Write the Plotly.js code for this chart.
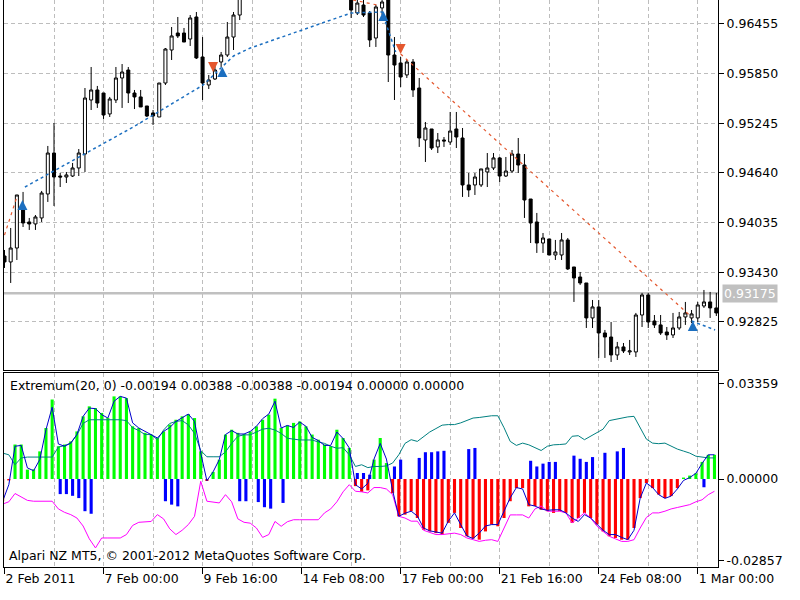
<!DOCTYPE html>
<html>
<head>
<meta charset="utf-8">
<script src="https://cdn.plot.ly/plotly-3.0.1.min.js"></script>
<style>html,body{margin:0;padding:0;background:#fff;}#chart{width:800px;height:600px;}</style>
</head>
<body>
<div id="chart"></div>
<script>
// ---- price data (H4 bars, index 0..115) ----
const openP = [
0.93629,0.93556,0.93726,0.94238,0.94043,0.94019,0.94092,0.94384,0.94883,0.94603,
0.94591,0.94603,0.94701,0.94871,0.95529,0.95651,0.95614,0.95359,0.95529,0.95797,
0.95894,0.95614,0.95566,0.95456,0.95371,0.95322,0.95736,0.96138,0.96345,0.96345,
0.96272,0.96540,0.96053,0.95712,0.95785,0.95992,0.96077,0.96296,0.96564,0.9680,
0.9694,0.9706,0.9699,0.9716,0.9725,0.9712,0.9720,0.9736,0.9728,0.9719,
0.9733,0.9722,0.9707,0.9714,0.9697,0.9689,0.96844,0.96589,0.96686,0.96589,
0.96284,0.96650,0.96747,0.96077,0.95980,0.95834,0.95992,0.95675,0.95042,0.95176,
0.94957,0.95042,0.95017,0.95176,0.95066,0.94494,0.94494,0.94494,0.94652,0.94701,
0.94823,0.94603,0.94664,0.94871,0.94737,0.94323,0.94043,0.93787,0.93836,0.93641,
0.93641,0.93824,0.93495,0.93373,0.93300,0.92874,0.93008,0.92691,0.92642,0.92423,
0.92521,0.92460,0.92460,0.92910,0.93154,0.92837,0.92789,0.92703,0.92667,0.92752,
0.92886,0.92874,0.92874,0.93020,0.93069,0.92996];
const highP = [
0.93702,0.93970,0.94372,0.94409,0.94092,0.94128,0.94421,0.94969,0.95249,0.94640,
0.94652,0.94762,0.94932,0.95675,0.95931,0.95700,0.95614,0.95566,0.95931,0.95967,
0.95931,0.95651,0.95651,0.95456,0.95407,0.95736,0.96162,0.96418,0.96540,0.96406,
0.96564,0.96601,0.96296,0.95834,0.95992,0.96114,0.96479,0.96601,0.96869,0.9698,
0.9712,0.9715,0.9720,0.9731,0.9729,0.9724,0.9742,0.9748,0.9735,0.9738,
0.9744,0.9728,0.9719,0.9721,0.9706,0.9699,0.96930,0.96747,0.96771,0.96613,
0.96686,0.96808,0.96808,0.96296,0.96053,0.96016,0.96028,0.95797,0.95261,0.95176,
0.95127,0.95078,0.95383,0.95383,0.95188,0.94640,0.94640,0.94689,0.94883,0.94883,
0.94835,0.94835,0.94920,0.95066,0.94871,0.94323,0.94153,0.93909,0.93836,0.93824,
0.93909,0.93848,0.93495,0.93434,0.93300,0.93093,0.93093,0.92728,0.92825,0.92582,
0.92569,0.92606,0.92935,0.93179,0.93179,0.92910,0.92910,0.92764,0.92935,0.92947,
0.93069,0.92971,0.93069,0.93215,0.93191,0.93179];
const lowP = [
0.93483,0.93300,0.93580,0.93982,0.93946,0.93946,0.94043,0.94287,0.94238,0.94469,
0.94518,0.94591,0.94603,0.94652,0.95407,0.95432,0.95298,0.95322,0.95492,0.95432,
0.95492,0.95419,0.95444,0.95322,0.95225,0.95322,0.95712,0.96016,0.96284,0.96235,
0.96187,0.96028,0.95529,0.95663,0.95773,0.95931,0.96053,0.96138,0.96503,0.9677,
0.9688,0.9695,0.9696,0.9709,0.9708,0.9703,0.9716,0.9722,0.9714,0.9717,
0.9718,0.9702,0.9698,0.9693,0.9684,0.9677,0.96528,0.96564,0.96540,0.96175,
0.96175,0.96564,0.95748,0.95529,0.95687,0.95797,0.95566,0.94957,0.94774,0.94920,
0.94883,0.94957,0.94981,0.94944,0.94348,0.94348,0.94372,0.94469,0.94469,0.94676,
0.94530,0.94591,0.94640,0.94640,0.94092,0.93787,0.93666,0.93666,0.93641,0.93580,
0.93580,0.93458,0.93069,0.93276,0.92752,0.92752,0.92387,0.92387,0.92338,0.92362,
0.92447,0.92423,0.92399,0.92764,0.92752,0.92752,0.92667,0.92606,0.92630,0.92728,
0.92789,0.92813,0.92825,0.92996,0.92874,0.92898];
const closeP = [
0.93556,0.93726,0.94372,0.94031,0.94019,0.94104,0.94396,0.94883,0.94591,0.94591,
0.94616,0.94701,0.94883,0.95553,0.95651,0.95492,0.95346,0.95541,0.95797,0.95870,
0.95614,0.95566,0.95444,0.95334,0.95334,0.95736,0.96150,0.96309,0.96309,0.96235,
0.96528,0.96041,0.95736,0.95773,0.95894,0.96077,0.96296,0.96564,0.96808,0.9694,
0.9706,0.9699,0.9716,0.9725,0.9712,0.9720,0.9736,0.9728,0.9719,0.9733,
0.9722,0.9707,0.9714,0.9697,0.9689,0.9683,0.96625,0.96710,0.96564,0.96260,
0.96662,0.96723,0.96077,0.95955,0.95809,0.95992,0.95651,0.95066,0.95188,0.94944,
0.95042,0.95030,0.95151,0.95078,0.94494,0.94433,0.94591,0.94689,0.94701,0.94823,
0.94603,0.94664,0.94871,0.94737,0.94311,0.94031,0.93787,0.93848,0.93641,0.93678,
0.93824,0.93471,0.93361,0.93300,0.92874,0.93008,0.92691,0.92642,0.92423,0.92521,
0.92472,0.92472,0.92910,0.93154,0.92825,0.92789,0.92691,0.92667,0.92752,0.92886,
0.92935,0.92923,0.93032,0.93069,0.92996,0.92935];

// ---- indicator data ----
const histVals = [
-0.0078,-0.0005,0.0121,0.0121,0.0033,0.0034,0.0097,0.0179,0.0279,0.0115,
0.0121,0.0132,0.0167,0.0220,0.0255,0.0249,0.0232,0.0214,0.0290,0.0290,
0.0284,0.0185,0.0179,0.0162,0.0156,0.0144,0.0167,0.0191,0.0208,0.0220,
0.0228,0.0214,0.0097,-0.0007,0.0025,0.0068,0.0156,0.0173,0.0162,0.0158,
0.0167,0.0185,0.0208,0.0226,0.0282,0.0179,0.0188,0.0197,0.0202,0.0185,
0.0156,0.0138,0.0121,0.0115,0.0173,0.0144,0.0109,-0.0025,-0.0045,-0.0040,
0.0068,0.0144,0.0056,-0.0050,-0.0131,-0.0125,-0.0113,-0.0137,-0.0178,-0.0184,
-0.0190,-0.0195,-0.0154,-0.0119,-0.0172,-0.0201,-0.0209,-0.0213,-0.0184,-0.0160,
-0.0166,-0.0137,-0.0078,-0.0032,-0.0032,-0.0096,-0.0095,-0.0108,-0.0113,-0.0119,
-0.0113,-0.0119,-0.0154,-0.0137,-0.0119,-0.0137,-0.0160,-0.0184,-0.0201,-0.0207,
-0.0213,-0.0213,-0.0172,-0.0067,-0.0014,-0.0032,-0.0055,-0.0067,-0.0060,-0.0032,
0.0005,0.0012,0.0020,0.0060,0.0085,0.0085];
const blueBars = [
null,null,null,null,null,null,null,null,null,-0.0053,
-0.0053,-0.0059,-0.0067,-0.0113,-0.0122,null,null,null,null,null,
null,null,null,null,null,null,-0.0078,-0.0090,-0.0096,null,
null,null,null,null,null,null,null,null,-0.0078,-0.0078,
null,-0.0081,-0.0099,-0.0104,null,-0.0084,null,null,null,null,
null,null,null,null,null,null,null,0.0021,0.0021,0.0015,
null,null,null,0.0044,0.0068,null,null,0.0074,0.0094,0.0094,
0.0097,0.0099,null,null,null,0.0105,0.0109,null,null,null,
null,null,null,null,null,0.0064,0.0044,0.0054,0.0060,0.0060,
null,null,0.0082,0.0071,0.0060,0.0077,null,0.0092,null,0.0097,
0.0109,null,null,null,null,null,null,null,null,null,
null,null,null,-0.0029,null,null];
const blueLine = [
-0.0078,-0.0020,0.0115,0.0118,0.0039,0.0029,0.0068,0.0173,0.0252,0.0123,
0.0115,0.0126,0.0156,0.0220,0.0249,0.0247,0.0226,0.0214,0.0273,0.0290,
0.0284,0.0197,0.0179,0.0167,0.0156,0.0144,0.0167,0.0181,0.0202,0.0214,
0.0228,0.0202,0.0091,-0.0006,0.0025,0.0068,0.0156,0.0170,0.0158,0.0158,
0.0167,0.0185,0.0212,0.0228,0.0273,0.0179,0.0188,0.0181,0.0200,0.0185,
0.0146,0.0135,0.0118,0.0118,0.0165,0.0142,0.0109,-0.0020,-0.0035,-0.0015,
0.0070,0.0125,0.0070,-0.0040,-0.0131,-0.0120,-0.0113,-0.0130,-0.0172,-0.0182,
-0.0187,-0.0190,-0.0148,-0.0119,-0.0160,-0.0200,-0.0209,-0.0190,-0.0165,-0.0160,
-0.0160,-0.0115,-0.0066,-0.0030,-0.0035,-0.0090,-0.0095,-0.0105,-0.0110,-0.0108,
-0.0108,-0.0119,-0.0137,-0.0149,-0.0125,-0.0137,-0.0160,-0.0180,-0.0195,-0.0195,
-0.0205,-0.0213,-0.0180,-0.0067,-0.0014,-0.0030,-0.0055,-0.0068,-0.0060,-0.0035,
-0.0005,0.0005,0.0020,0.0055,0.0085,0.0085];
const upperLine = [
0.0091,0.0085,0.0050,0.0074,0.0077,0.0077,0.0077,0.0077,0.0077,0.0112,
0.0117,0.0126,0.0155,0.0195,0.0208,0.0208,0.0208,0.0208,0.0208,0.0208,
0.0205,0.0180,0.0170,0.0156,0.0156,0.0138,0.0172,0.0195,0.0202,0.0205,
0.0190,0.0160,0.0100,0.0078,0.0078,0.0078,0.0095,0.0125,0.0150,0.0155,
0.0155,0.0165,0.0175,0.0178,0.0172,0.0160,0.0143,0.0140,0.0137,0.0137,
0.0137,0.0130,0.0125,0.0115,0.0108,0.0110,0.0085,0.0044,0.0050,0.0040,
0.0044,0.0044,0.0046,0.0056,0.0085,0.0125,0.0138,0.0132,0.0148,0.0165,
0.0177,0.0189,0.0191,0.0191,0.0197,0.0206,0.0214,0.0216,0.0220,0.0222,
0.0222,0.0180,0.0132,0.0118,0.0126,0.0120,0.0110,0.0100,0.0115,0.0120,
0.0121,0.0123,0.0150,0.0152,0.0138,0.0150,0.0161,0.0175,0.0205,0.0210,
0.0214,0.0218,0.0220,0.0180,0.0140,0.0126,0.0124,0.0126,0.0115,0.0105,
0.0098,0.0091,0.0080,0.0076,0.0074,0.0074];
const lowerLine = [
-0.0088,-0.0080,-0.0051,-0.0063,-0.0075,-0.0078,-0.0078,-0.0078,-0.0078,-0.0105,
-0.0117,-0.0125,-0.0137,-0.0165,-0.0210,-0.0242,-0.0207,-0.0207,-0.0207,-0.0207,
-0.0195,-0.0163,-0.0152,-0.0150,-0.0149,-0.0125,-0.0140,-0.0175,-0.0195,-0.0180,
-0.0160,-0.0131,-0.0008,-0.0078,-0.0080,-0.0084,-0.0055,-0.0080,-0.0140,-0.0152,
-0.0155,-0.0172,-0.0205,-0.0195,-0.0149,-0.0166,-0.0150,-0.0143,-0.0143,-0.0143,
-0.0143,-0.0143,-0.0119,-0.0105,-0.0080,-0.0045,-0.0020,-0.0043,-0.0045,-0.0049,
-0.0030,-0.0030,-0.0035,-0.0055,-0.0131,-0.0137,-0.0148,-0.0148,-0.0180,-0.0187,
-0.0195,-0.0195,-0.0192,-0.0190,-0.0195,-0.0207,-0.0213,-0.0219,-0.0215,-0.0213,
-0.0219,-0.0172,-0.0126,-0.0126,-0.0126,-0.0137,-0.0105,-0.0095,-0.0113,-0.0113,
-0.0113,-0.0119,-0.0154,-0.0137,-0.0119,-0.0137,-0.0165,-0.0184,-0.0201,-0.0210,
-0.0219,-0.0219,-0.0213,-0.0172,-0.0135,-0.0119,-0.0119,-0.0113,-0.0105,-0.0100,
-0.0096,-0.0090,-0.0080,-0.0073,-0.0055,-0.0043];

// ---- extremum trend lines and arrows (bar index, price) ----
const blueTrendX = [3.3, 20.8, 32.1, 35, 37, 39.7, 56, 61, 63.2, null, 111, 114.8];
const blueTrendY = [0.94469, 0.95200, 0.95712, 0.95919, 0.96065, 0.96162, 0.96589, 0.96601, 0.96114, null, 0.92837, 0.92728];
const redTrendX = [0, 2, null, 56.3, 60.2, null, 64, 111];
const redTrendY = [0.93884, 0.94348, null, 0.96747, 0.96686, null, 0.96089, 0.92886];
const blueArrowX = [2.9, 35.2, 61.2, 111.2];
const blueArrowY = [0.94311, 0.95931, 0.96613, 0.92837];
const redArrowX = [33.7, 64];
const redArrowY = [0.95870, 0.96089];
const bidPrice = 0.93175;

// ---- axes labels ----
const priceTicks = [0.96455, 0.95850, 0.95245, 0.94640, 0.94035, 0.93430, 0.92825];
const priceTickText = ['0.96455','0.95850','0.95245','0.94640','0.94035','0.93430','0.92825'];
const indTicks = [0.03359, 0.0, -0.02857];
const indTickText = ['0.03359','0.00000','-0.02857'];
const timeTicks = [0, 16, 32, 48, 64, 80, 96, 112];
const timeTickText = ['2 Feb 2011','7 Feb 00:00','9 Feb 16:00','14 Feb 08:00','17 Feb 00:00','21 Feb 16:00','24 Feb 08:00','1 Mar 00:00'];
const minorTicks = [8, 24, 40, 56, 72, 88, 104];
const headerText = 'Extremum(20, 0) -0.00194 0.00388 -0.00388 -0.00194 0.00000 0.00000';
const footerText = 'Alpari NZ MT5, \u00A9 2001-2012 MetaQuotes Software Corp.';

const idx = openP.map((_, i) => i);
const histX = idx.map(i => i - 0.3);
const FONT = 'DejaVu Sans';
const GRID = '#bdbdbd';
const XR = [-0.08, 115.27];

const traces = [
  {type:'candlestick', x: idx, open: openP, high: highP, low: lowP, close: closeP,
   xaxis:'x2', yaxis:'y2', whiskerwidth: 0, hoverinfo:'skip',
   increasing:{line:{color:'#000', width:1}, fillcolor:'#ffffff'},
   decreasing:{line:{color:'#000', width:1}, fillcolor:'#000000'}},
  {type:'scatter', mode:'lines', x: blueTrendX, y: blueTrendY, xaxis:'x2', yaxis:'y2',
   line:{color:'#1c6fc0', width:1.5, dash:'3px,3px'}, hoverinfo:'skip'},
  {type:'scatter', mode:'lines', x: redTrendX, y: redTrendY, xaxis:'x2', yaxis:'y2',
   line:{color:'#e4572e', width:1.2, dash:'3px,4px'}, hoverinfo:'skip'},
  {type:'scatter', mode:'markers', x: blueArrowX, y: blueArrowY, xaxis:'x2', yaxis:'y2',
   marker:{symbol:'arrow-up', size:10, color:'#1c6fc0'}, hoverinfo:'skip'},
  {type:'scatter', mode:'markers', x: redArrowX, y: redArrowY, xaxis:'x2', yaxis:'y2',
   marker:{symbol:'arrow-down', size:10, color:'#e4572e'}, hoverinfo:'skip'},
  {type:'bar', x: histX, y: histVals, width: 0.5, xaxis:'x', yaxis:'y',
   marker:{color: histVals.map(v => v >= 0 ? '#00ff00' : '#ff0000'), line:{width:0}}, hoverinfo:'skip'},
  {type:'bar', x: idx, y: blueBars, width: 0.5, xaxis:'x', yaxis:'y',
   marker:{color:'#0000ff', line:{width:0}}, hoverinfo:'skip'},
  {type:'scatter', mode:'lines', x: histX, y: upperLine, xaxis:'x', yaxis:'y',
   line:{color:'#008080', width:1}, hoverinfo:'skip'},
  {type:'scatter', mode:'lines', x: histX, y: lowerLine, xaxis:'x', yaxis:'y',
   line:{color:'#ff00ff', width:1}, hoverinfo:'skip'},
  {type:'scatter', mode:'lines', x: histX, y: blueLine, xaxis:'x', yaxis:'y',
   line:{color:'#0000cd', width:1}, hoverinfo:'skip'}
];

const gridMinor = {tickmode:'array', tickvals: minorTicks, showgrid:true, gridcolor: GRID, griddash:'4px,3px', gridwidth:1, ticklen:0};

const layout = {
  width: 800, height: 600,
  margin: {l: 4, r: 82, t: 0, b: 33},
  paper_bgcolor:'#ffffff', plot_bgcolor:'#ffffff',
  showlegend: false, barmode:'overlay',
  font: {family: FONT, size: 12.5, color:'#000'},
  xaxis: {domain:[0,1], anchor:'y', range: XR, tickmode:'array', tickvals: timeTicks, ticktext: timeTickText,
    ticks:'outside', ticklen:6, tickcolor:'#000', ticklabelposition:'outside right',
    showgrid:true, gridcolor: GRID, griddash:'4px,3px', minor: gridMinor,
    showline:true, mirror:true, linecolor:'#000', linewidth:1, zeroline:false,
    rangeslider:{visible:false}, fixedrange:true, tickfont:{family:FONT, size:12.5}},
  xaxis2: {domain:[0,1], anchor:'y2', range: XR, tickmode:'array', tickvals: timeTicks, showticklabels:false,
    ticks:'', showgrid:true, gridcolor: GRID, griddash:'4px,3px', minor: gridMinor,
    showline:true, mirror:true, linecolor:'#000', linewidth:1, zeroline:false,
    rangeslider:{visible:false}, fixedrange:true},
  yaxis: {domain:[0, 0.34215], anchor:'x', side:'right', range:[-0.03089, 0.03721],
    tickmode:'array', tickvals: indTicks, ticktext: indTickText, ticks:'outside', ticklen:5, tickcolor:'#000',
    showgrid:false, zeroline:false, showline:true, mirror:true, linecolor:'#000', linewidth:1,
    fixedrange:true, tickfont:{family:FONT, size:12.5}},
  yaxis2: {domain:[0.34744, 1], anchor:'x2', side:'right', range:[0.92240, 0.96747],
    tickmode:'array', tickvals: priceTicks, ticktext: priceTickText, ticks:'outside', ticklen:5, tickcolor:'#000',
    showgrid:true, gridcolor: GRID, griddash:'4px,3px', zeroline:false,
    showline:true, mirror:true, linecolor:'#000', linewidth:1, fixedrange:true, tickfont:{family:FONT, size:12.5}},
  shapes: [
    {type:'line', layer:'below', xref:'paper', x0:0, x1:1, yref:'y2', y0: bidPrice, y1: bidPrice,
     line:{color:'#c0c0c0', width:2.5}}
  ],
  annotations: [
    {xref:'paper', x:1, xanchor:'left', xshift:4, yref:'y2', y: bidPrice, yanchor:'middle',
     text: bidPrice.toFixed(5), showarrow:false, bgcolor:'#c0c0c0', borderpad:1,
     font:{family:FONT, size:12.5, color:'#ffffff'}},
    {xref:'paper', x:0, xanchor:'left', xshift:4, yref:'y domain', y:1, yanchor:'top', yshift:-3,
     text: headerText, showarrow:false, font:{family:FONT, size:12.5, color:'#000'}},
    {xref:'paper', x:0, xanchor:'left', xshift:3, yref:'y domain', y:0, yanchor:'bottom', yshift:2,
     text: footerText, showarrow:false, font:{family:FONT, size:12.5, color:'#000'}}
  ]
};

Plotly.newPlot('chart', traces, layout, {displayModeBar:false, staticPlot:true});
</script>
</body>
</html>
